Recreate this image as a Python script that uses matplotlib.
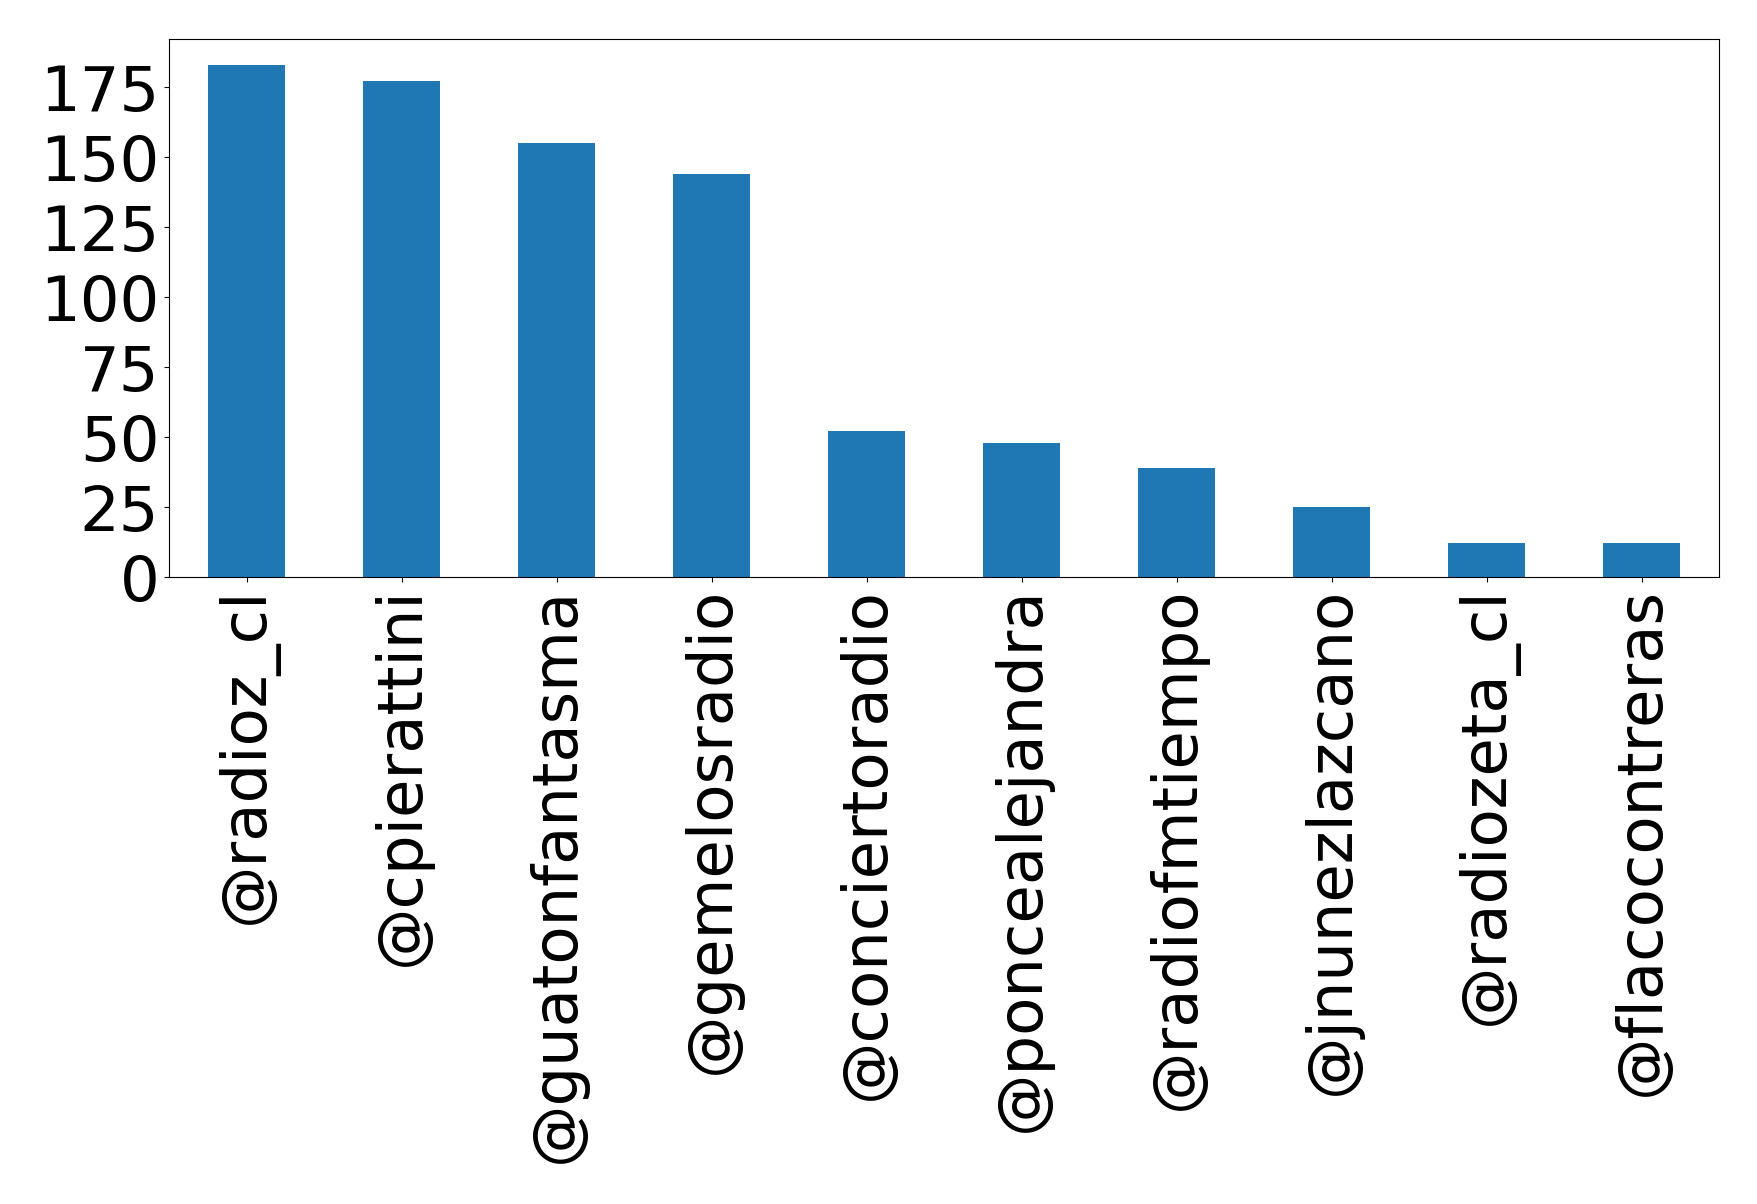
import matplotlib
matplotlib.use("Agg")
import matplotlib.pyplot as plt

users = ["@radioz_cl", "@cpierattini", "@guatonfantasma", "@gemelosradio",
         "@conciertoradio", "@poncealejandra", "@radiofmtiempo",
         "@jnunezlazcano", "@radiozeta_cl", "@flacocontreras"]
counts = [183, 177, 155, 144, 52, 48, 39, 25, 12, 12]

fig = plt.figure(figsize=(17.58, 12.04), dpi=100)
ax = fig.add_axes([169/1758, 1 - 577/1204, (1719-169)/1758, (577-39)/1204])
x = list(range(len(users)))
ax.bar(x, counts, width=0.5, color="#1f77b4")
ax.set_xlim(-0.5, len(users) - 0.5)
ax.set_ylim(0, max(counts) * 1.05)
ax.set_xticks(x)
ax.set_xticklabels(users, rotation=90, fontsize=45)
ax.set_yticks([0, 25, 50, 75, 100, 125, 150, 175])
ax.tick_params(axis="y", labelsize=45)
fig.savefig("out.png", dpi=100)
